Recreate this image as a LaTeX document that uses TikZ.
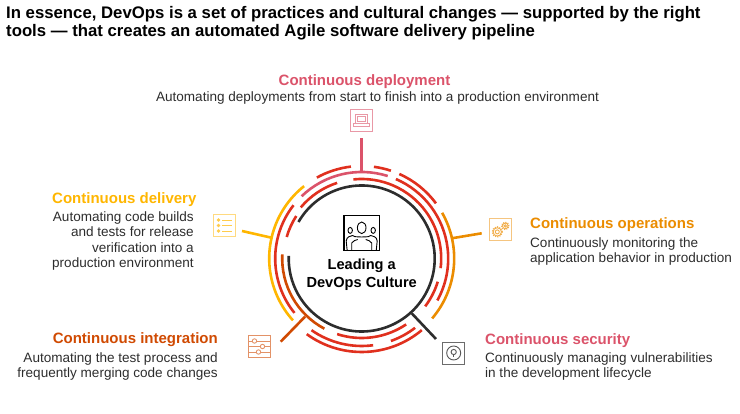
\documentclass[tikz,border=0pt]{standalone}
\usepackage{fontspec}
\setmainfont{Liberation Sans}
\usepackage{xcolor}
\usetikzlibrary{calc, positioning}
\definecolor{MainInk}{HTML}{2D2D2D}
\definecolor{MainRed}{HTML}{E0301E}
\definecolor{MainRose}{HTML}{DB536A}
\definecolor{MainYellow}{HTML}{FFB600}
\definecolor{MainOrange}{HTML}{EB8C00}
\definecolor{MainBrown}{HTML}{D04A02}
\tikzset{
  % Testi
  headline/.style={font=\bfseries\fontsize{16.75}{18.5}\selectfont,align=left,anchor=base west,inner sep=0,text=black},
  step head/.style={font=\bfseries\fontsize{15}{17}\selectfont,inner sep=0},
  step text/.style={font=\fontsize{13.55}{15.3}\selectfont,inner sep=0,text=MainInk},
  core label/.style={font=\bfseries\fontsize{14.6}{18}\selectfont,align=center,inner sep=0,text=black},
  % Anello e raggi
  ring arc/.style={line width=2.6pt},
  spoke/.style={line width=2.6pt},
  % Icone
  icon box/.style={draw,line width=0.9pt,minimum size=22,inner sep=0,outer sep=0},
  icon line/.style={line width=0.9pt}
}

\begin{document}
\begin{tikzpicture}[x=1pt,y=1pt]
  \useasboundingbox (0,0) rectangle (740,414);
  % Titolo
  \node[headline] (title) at (6,377.3) {In essence, DevOps is a set of practices and cultural changes — supported by the right\\tools — that creates an automated Agile software delivery pipeline};

  % Anello
  \coordinate (ring) at (361.7,155.5);
  \foreach \rad/\from/\to/\col in {
    73/150/-182/MainInk,
    79.5/108/140/MainRed, 78/147/164/MainRed, 79.5/177/242/MainBrown,
    79.5/252/304/MainRed, 79.5/-17/-37/MainRed, 79.5/96/-7/MainRed,
    86.5/134/72.5/MainRose, 86.5/142/219/MainRed, 87.5/235/277.5/MainRed,
    87.5/289.5/307.6/MainRed, 86.5/66.7/-29/MainRed,
    92.5/119/96.7/MainRed, 92.5/82.4/71.6/MainRed, 92.5/66/36.6/MainRed,
    92.5/128.5/222/MainYellow, 92.5/29.6/-40.4/MainOrange, 93.5/234/310/MainRed}
    \draw[ring arc,\col] ($(ring)+(\from:\rad)$) arc[start angle=\from,end angle=\to,radius=\rad];

  % Raggi
  \coordinate (deploy a) at (361.5,242);
  \coordinate (deploy b) at (361.5,276.3);
  \coordinate (deliver a) at (272.7,176);
  \coordinate (deliver b) at (242,183);
  \coordinate (oper a) at (451.7,175.7);
  \coordinate (oper b) at (481.7,180.7);
  \coordinate (secure a) at (411.7,100.7);
  \coordinate (secure b) at (436,75);
  \coordinate (integ a) at (305,97.3);
  \coordinate (integ b) at (280.7,72.3);
  \draw[spoke,MainRose] (deploy a) -- (deploy b);
  \draw[spoke,MainYellow] (deliver a) -- (deliver b);
  \draw[spoke,MainOrange] (oper a) -- (oper b);
  \draw[spoke,MainInk] (secure a) -- (secure b);
  \draw[spoke,MainBrown] (integ a) -- (integ b);

  % Icone
  \node[icon box,draw=MainRose!60] (icon deploy) at (361.7,293.2) {};
  \draw[icon line,MainRose!60] ($(icon deploy)+(-6,-2.5)$) rectangle ($(icon deploy)+(6,6)$);
  \draw[icon line,MainRose!60] ($(icon deploy)+(-4,-.5)$) rectangle ($(icon deploy)+(4,4)$);
  \draw[icon line,MainRose!60] ($(icon deploy)+(-8,-5.5)$) rectangle ($(icon deploy)+(8,-2.5)$);

  \node[icon box,draw=MainYellow!50] (icon deliver) at (224,188.5) {};
  \foreach \dy in {-5.5,0,5.5} {
    \fill[MainYellow!70] ($(icon deliver)+(-5.5,\dy)$) circle (1.8);
    \draw[icon line,MainYellow!70] ($(icon deliver)+(-2,\dy)$) -- ++(10,0);
  }

  \node[icon box,draw=MainOrange!50] (icon oper) at (500.8,184.6) {};
  \draw[icon line,MainOrange!70] ($(icon oper)+(-3.5,-2.5)$) circle (4.2);
  \draw[icon line,MainOrange!70] ($(icon oper)+(-3.5,-2.5)$) circle (2);
  \draw[line width=1.4pt,MainOrange!70,dash pattern=on 1pt off 1.3pt] ($(icon oper)+(-3.5,-2.5)$) circle (5);
  \draw[icon line,MainOrange!70] ($(icon oper)+(4.5,3.5)$) circle (2.8);
  \draw[icon line,MainOrange!70] ($(icon oper)+(4.5,3.5)$) circle (1.2);
  \draw[line width=1.4pt,MainOrange!70,dash pattern=on 1pt off 1.2pt] ($(icon oper)+(4.5,3.5)$) circle (3.6);

  \node[icon box,draw=MainBrown!60] (icon integ) at (259.5,67.5) {};
  \foreach \dy in {-5.5,0,5.5} \draw[icon line,MainBrown!60] ($(icon integ)+(-11,\dy)$) -- ++(22,0);
  \foreach \dx/\dy in {-5/5.5,3/0,-1/-5.5} \draw[icon line,MainBrown!60,fill=white] ($(icon integ)+(\dx,\dy)$) circle (2.2);

  \node[icon box,draw=MainInk!70] (icon secure) at (453.7,61) {};
  \draw[icon line,MainInk!80] (icon secure) circle (7);
  \draw[icon line,MainInk!80] ($(icon secure)+(0,1)$) circle (2.6);
  \draw[icon line,MainInk!80] ($(icon secure)+(0,-1.5)$) -- ++(0,-3);

  % Icona centrale
  \node[icon box,draw=black,line width=1.1pt,minimum size=35.5] (icon core) at (361.7,181) {};
  \begin{scope}[shift={(icon core)},line width=.9pt,black]
    \draw (0,5.2) ellipse (4.3 and 5.8);
    \draw (-11.5,2.6) ellipse (2.2 and 3);
    \draw (11.5,2.6) ellipse (2.2 and 3);
    \draw (-14.5,-17.7) -- (-15.5,-8) .. controls (-15,-3) and (-11,-3.5) .. (-9,-2.5) .. controls (-6,-5) and (-3,-3) .. (0,-4) .. controls (3,-3) and (6,-5) .. (9,-2.5) .. controls (11,-3.5) and (15,-3) .. (15.5,-8) -- (14.5,-17.7);
    \draw (-10,-17.7) -- (-10,-10) .. controls (-9,-8) and (-6,-7) .. (-4,-6.5);
    \draw (10,-17.7) -- (10,-10) .. controls (9,-8) and (6,-7) .. (4,-6.5);
  \end{scope}
  \node[core label] (core text) at (361.7,139) {Leading a\\DevOps Culture};

  % Testi delle fasi
  \node[step head,text=MainRose,anchor=base] (deploy head) at (364.5,328) {Continuous deployment};
  \node[step text,anchor=base] (deploy text) at (377.5,312.5) {Automating deployments from start to finish into a production environment};

  \node[step head,text=MainYellow,anchor=base west] (deliver head) at (52,210) {Continuous delivery};
  \node[step text,anchor=base east,align=right] (deliver text) at (194,146.5) {Automating code builds\\and tests for release\\verification into a\\production environment};

  \node[step head,text=MainOrange,anchor=base west] (oper head) at (530,185) {Continuous operations};
  \node[step text,anchor=base west,align=left] (oper text) at (530,151) {Continuously monitoring the\\application behavior in production};

  \node[step head,text=MainRose,anchor=base west] (secure head) at (485,69) {Continuous security};
  \node[step text,anchor=base west,align=left] (secure text) at (485,36) {Continuously managing vulnerabilities\\in the development lifecycle};

  \node[step head,text=MainBrown,anchor=base east] (integ head) at (218,70) {Continuous integration};
  \node[step text,anchor=base east,align=right] (integ text) at (218,36) {Automating the test process and\\frequently merging code changes};
\end{tikzpicture}
\end{document}
